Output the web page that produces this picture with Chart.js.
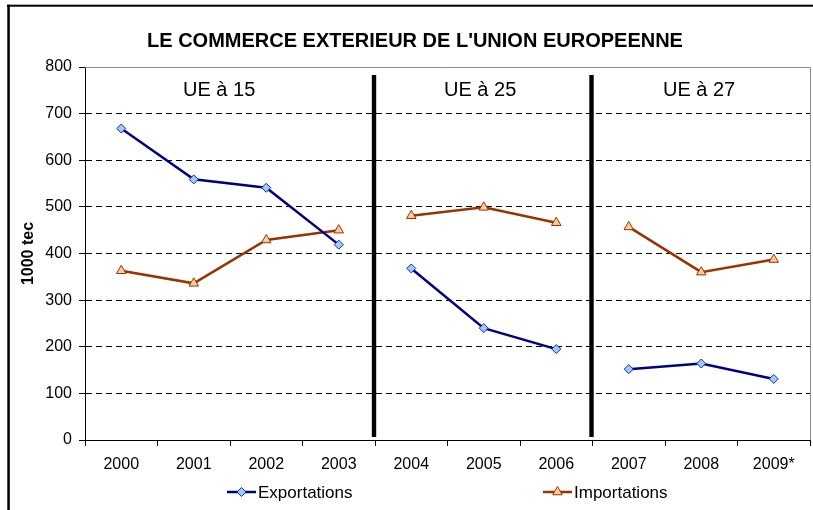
<!DOCTYPE html>
<html>
<head>
<meta charset="utf-8">
<script src="https://cdn.jsdelivr.net/npm/chart.js@4.4.1/dist/chart.umd.min.js"></script>
<style>
  html, body { margin: 0; padding: 0; background: #fff; }
  #wrap { width: 813px; height: 510px; }
</style>
</head>
<body>
<div id="wrap"><canvas id="c" width="813" height="510"></canvas></div>
<script>
const years = ['2000', '2001', '2002', '2003', '2004', '2005', '2006', '2007', '2008', '2009*'];
const exportations = [668, 559, 541, 419, 368, 240, 195, 152, 164, 131];
const importations = [363, 336, 429, 450, 481, 499, 466, 457, 360, 387];
const groupNames = ['UE à 15', 'UE à 25', 'UE à 27'];
const groupLast = ['2003', '2006', '2009*']; // last year of each group
const yTicks = [0, 100, 200, 300, 400, 500, 600, 700, 800];

const FONT = "'Liberation Sans', Arial, sans-serif";
const breaks = groupLast.map(y => years.indexOf(y));

const series = [
  { label: 'Exportations', data: exportations, color: '#000080', fill: '#99CCFF', edge: '#2323A8', style: 'rectRot', r: 4.5 },
  { label: 'Importations', data: importations, color: '#993300', fill: '#FFCC99', edge: '#993300', style: 'triangle', r: 5.5 }
];

// title, frame, group separators, y title and legend
const decor = {
  id: 'decor',
  beforeDatasetsDraw(chart) {
    const { ctx, chartArea: a, scales: { x } } = chart;
    ctx.save();
    // light frame top/right of plot
    ctx.strokeStyle = '#8c8c8c';
    ctx.lineWidth = 1;
    ctx.beginPath();
    ctx.moveTo(a.left, a.top + 0.5);
    ctx.lineTo(a.right + 0.5, a.top + 0.5);
    ctx.lineTo(a.right + 0.5, a.bottom);
    ctx.stroke();

    // thick separators between groups
    const step = x.getPixelForValue(1) - x.getPixelForValue(0);
    ctx.fillStyle = '#000';
    breaks.slice(0, -1).forEach(i => {
      const px = x.getPixelForValue(i) + step / 2 - 1;
      ctx.fillRect(px - 2.2, a.top + 8, 4.4, a.bottom - a.top - 11);
    });

    // group labels
    ctx.font = '20px ' + FONT;
    ctx.textAlign = 'center';
    ctx.textBaseline = 'middle';
    const labelPos = [1.35, 4.95, 7.97];
    groupNames.forEach((n, k) => {
      const px = x.getPixelForValue(0) + step * labelPos[k];
      ctx.fillText(n, px, a.top + 23);
    });
    ctx.restore();
  },
  afterDraw(chart) {
    const { ctx, chartArea: a } = chart;
    ctx.save();
    // outer frame (cut by the picture edge at right and bottom)
    ctx.fillStyle = '#000';
    ctx.fillRect(7, 4.7, 820, 2);
    ctx.fillRect(7.3, 4.7, 2.5, 520);

    // title
    ctx.font = 'bold 20px ' + FONT;
    ctx.textAlign = 'center';
    ctx.textBaseline = 'middle';
    ctx.fillText("LE COMMERCE EXTERIEUR DE L'UNION EUROPEENNE", 415, 41);

    // y axis title
    ctx.save();
    ctx.translate(29, (a.top + a.bottom) / 2);
    ctx.rotate(-Math.PI / 2);
    ctx.font = 'bold 16px ' + FONT;
    ctx.fillText('1000 tec', 0, 0);
    ctx.restore();

    // legend
    const legendX = [227, 543];
    const ly = 492;
    series.forEach((s, k) => {
      const x0 = legendX[k];
      ctx.strokeStyle = s.color;
      ctx.lineWidth = 2.5;
      ctx.beginPath();
      ctx.moveTo(x0, ly);
      ctx.lineTo(x0 + 29, ly);
      ctx.stroke();
      ctx.fillStyle = s.fill;
      ctx.strokeStyle = s.edge;
      ctx.lineWidth = 1;
      Chart.helpers.drawPoint(ctx, { pointStyle: s.style, radius: s.r, borderWidth: 1, rotation: 0 }, x0 + 14.5, ly);
      ctx.fillStyle = '#000';
      ctx.font = '17px ' + FONT;
      ctx.textAlign = 'left';
      ctx.fillText(s.label, x0 + 31, ly + 1);
    });
    ctx.restore();
  }
};

new Chart(document.getElementById('c').getContext('2d'), {
  type: 'line',
  data: {
    labels: years,
    datasets: series.map(s => ({
      label: s.label,
      data: s.data,
      borderColor: s.color,
      borderWidth: 2.5,
      pointStyle: s.style,
      pointRadius: s.r,
      pointBackgroundColor: s.fill,
      pointBorderColor: s.edge,
      pointBorderWidth: 1,
      tension: 0,
      segment: {
        borderColor: ctx => breaks.includes(ctx.p0DataIndex) ? 'rgba(0,0,0,0)' : undefined
      }
    }))
  },
  options: {
    responsive: false,
    devicePixelRatio: 1,
    animation: false,
    layout: { autoPadding: false, padding: { top: 67, right: 3, left: 0, bottom: 0 } },
    plugins: {
      legend: { display: false },
      title: { display: false },
      tooltip: { enabled: false }
    },
    scales: {
      x: {
        type: 'category',
        offset: true,
        afterFit: s => { s.height = 70; s.paddingLeft = 0; s.paddingRight = 0; },
        grid: { offset: true, drawOnChartArea: false, drawTicks: true, tickLength: 6, tickColor: '#000' },
        border: { display: true, color: '#000', width: 1 },
        ticks: { color: '#000', font: { family: FONT, size: 16 }, padding: 9, maxRotation: 0, autoSkip: false }
      },
      y: {
        min: 0,
        max: 800,
        afterFit: s => { s.width = 85; s.paddingTop = 0; s.paddingBottom = 0; },
        afterBuildTicks: s => { s.ticks = yTicks.map(v => ({ value: v })); },
        grid: {
          color: c => (c.tick && (c.tick.value === 0 || c.tick.value === 800)) ? 'rgba(0,0,0,0)' : '#000',
          lineWidth: 1,
          tickLength: 6,
          tickColor: '#000',
          tickBorderDash: []
        },
        border: { display: true, color: '#000', width: 1, dash: [6, 4] },
        ticks: { color: '#000', font: { family: FONT, size: 16 }, padding: 7 }
      }
    }
  },
  plugins: [decor]
});
</script>
</body>
</html>
